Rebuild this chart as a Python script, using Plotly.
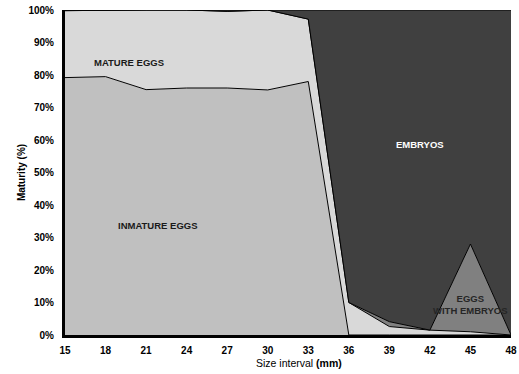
import plotly.graph_objects as go

# Size classes (mm) and maturity composition (%) per class
size_interval = [15, 18, 21, 24, 27, 30, 33, 36, 39, 42, 45, 48]
inmature_eggs = [79.2, 79.5, 75.5, 76.0, 76.0, 75.4, 78.0, 0.0, 0.0, 0.0, 0.0, 0.0]
mature_eggs = [20.6, 20.5, 24.5, 24.0, 23.6, 24.6, 19.2, 10.0, 2.6, 1.5, 1.0, 0.0]
eggs_with_embryos = [0.0, 0.0, 0.0, 0.0, 0.0, 0.0, 0.0, 0.0, 1.5, 0.0, 27.0, 0.0]
embryos = [round(100 - a - b - c, 2) for a, b, c in zip(inmature_eggs, mature_eggs, eggs_with_embryos)]

y_ticks = list(range(0, 101, 10))
y_tick_text = [f"<b>{v}%</b>" for v in y_ticks]
x_tick_text = [f"<b>{v}</b>" for v in size_interval]

series = [
    ("INMATURE EGGS", inmature_eggs, "#c0c0c0"),
    ("MATURE EGGS", mature_eggs, "#d9d9d9"),
    ("EGGS WITH EMBRYOS", eggs_with_embryos, "#808080"),
    ("EMBRYOS", embryos, "#404040"),
]

fig = go.Figure()
for name, vals, color in series:
    fig.add_trace(go.Scatter(
        x=size_interval, y=vals, name=name, mode="lines",
        stackgroup="maturity", fillcolor=color,
        line=dict(color="#000000", width=1),
    ))

font_family = "Liberation Sans, Arial, sans-serif"
labels = [
    (19.7, 83.7, "<b>MATURE EGGS</b>", "#1a1a1a"),
    (21.9, 33.8, "<b>INMATURE EGGS</b>", "#1a1a1a"),
    (41.3, 58.5, "<b>EMBRYOS</b>", "#ffffff"),
    (45.0, 9.3, "<b>EGGS<br>WITH EMBRYOS</b>", "#262626"),
]
for x, y, text, color in labels:
    fig.add_annotation(x=x, y=y, text=text, showarrow=False,
                       font=dict(family=font_family, size=9.5, color=color))

# x-axis title, placed slightly right of the axis centre
fig.add_annotation(x=0.525, y=0, xref="paper", yref="paper", yshift=-28,
                   yanchor="middle", showarrow=False,
                   text="Size interval <b>(mm)</b>",
                   font=dict(family=font_family, size=10.5, color="#000000"))

fig.update_layout(
    width=519, height=374,
    margin=dict(l=65, r=8, t=10, b=39, autoexpand=False),
    paper_bgcolor="#ffffff", plot_bgcolor="#ffffff",
    showlegend=False,
    font=dict(family=font_family, size=10, color="#000000"),
    xaxis=dict(
        range=[15, 48], tickvals=size_interval, ticktext=x_tick_text,
        showgrid=False, zeroline=False, showline=True, linecolor="#000000",
        linewidth=3, ticks="", ticklabelstandoff=4,
    ),
    yaxis=dict(
        range=[0, 100], tickvals=y_ticks, ticktext=y_tick_text,
        showgrid=False, zeroline=False, showline=True, linecolor="#000000",
        linewidth=3, ticks="", ticklabelstandoff=6,
        title=dict(text="<b>Maturity (%)</b>", standoff=1,
                   font=dict(size=10)),
    ),
)

fig.write_html("out.html")
